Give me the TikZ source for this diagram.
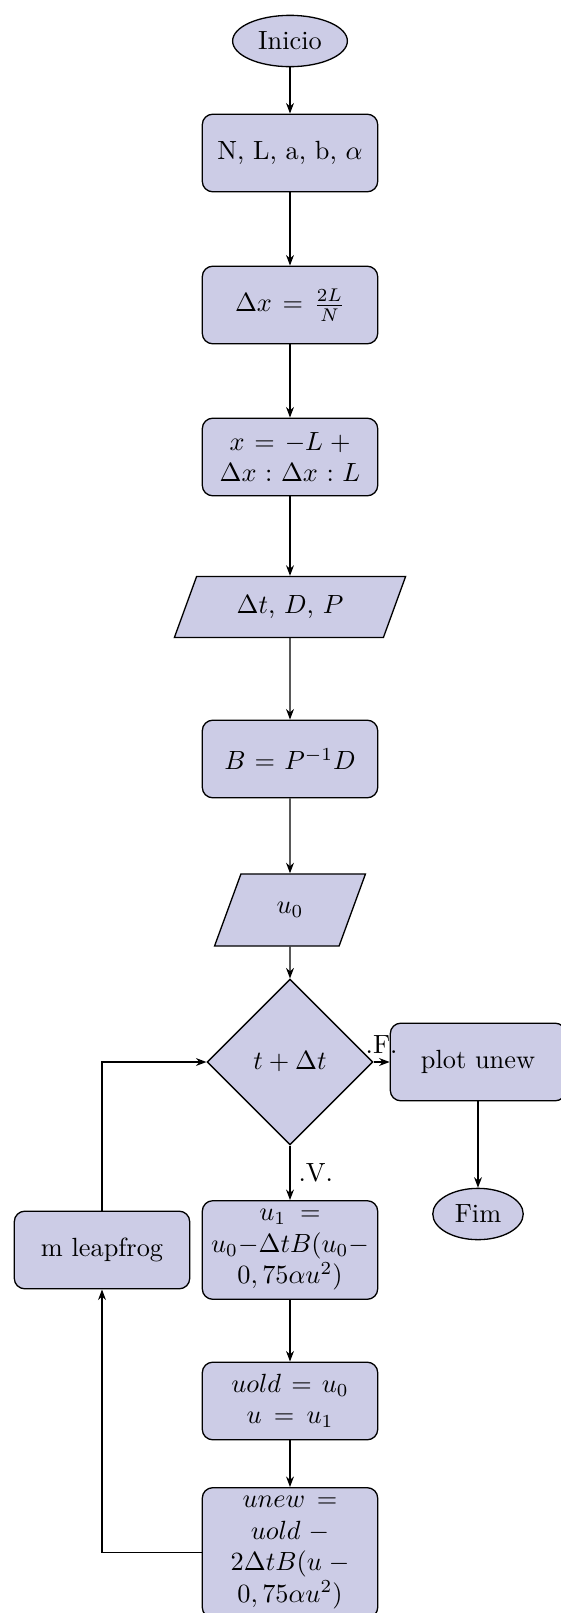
\documentclass[tikz,border=0pt]{standalone}
\usetikzlibrary{shapes.geometric,arrows.meta}
\definecolor{boxfill}{RGB}{204,204,230}
\begin{document}
\begin{tikzpicture}[x=0.38pt,y=-0.38pt,
  base/.style={draw=black, fill=boxfill, line width=0.5pt},
  startstop/.style={base, ellipse, minimum height=19.5pt},
  process/.style={base, rectangle, rounded corners=4pt, text width=60pt, align=center, minimum height=29.5pt},
  io/.style={base, trapezium, trapezium left angle=70, trapezium right angle=110, trapezium stretches=true},
  decision/.style={base, diamond, minimum width=63pt, minimum height=63pt, inner sep=0pt},
  arr/.style={-{Stealth[length=4pt,width=3pt]}, line width=0.5pt},
  lbl/.style={inner sep=3pt}
]
\useasboundingbox (0,0) rectangle (560,1613);
\node[startstop] (start) at (290,41) {Inicio};
\node[process] (in1) at (290,153) {N, L, a, b, $\alpha$};
\node[process] (dx) at (290,305) {$\Delta x = \frac{2L}{N}$};
\node[process] (xg) at (290,457) {$x = -L + \Delta x : \Delta x : L$};
\node[io, minimum width=88pt, minimum height=23.2pt] (dt) at (290,607) {$\Delta t$, $D$, $P$};
\node[process] (bm) at (290,759) {$B = P^{-1}D$};
\node[io, minimum width=57.4pt, minimum height=27.4pt] (u0) at (290,910) {$u_0$};
\node[decision] (dec) at (290,1062) {$t + \Delta t$};
\node[process] (u1) at (290,1250) {$u_1 = u_0 - \Delta t B(u_0 - 0,75\alpha u^2)$};
\node[process] (leap) at (102,1250) {m leapfrog};
\node[process] (plot) at (478,1062) {plot unew};
\node[startstop] (fim) at (478,1214) {Fim};
\node[process] (uold) at (290,1401) {$uold = u_0$ $u = u_1$};
\node[process, anchor=north] (unew) at (290,1487) {$unew = uold - 2\Delta t B(u - 0,75\alpha u^2)$};

\draw[arr] (start) -- (in1);
\draw[arr] (in1) -- (dx);
\draw[arr] (dx) -- (xg);
\draw[arr] (xg) -- (dt);
\draw[arr] (dt) -- (bm);
\draw[arr] (bm) -- (u0);
\draw[arr] (u0) -- (dec);
\draw[arr] (dec) -- node[lbl, above] {.F.} (plot);
\draw[arr] (dec) -- node[lbl, right] {.V.} (u1);
\draw[arr] (plot) -- (fim);
\draw[arr] (u1) -- (uold);
\draw[arr] (uold) -- (unew);
\draw[arr] (unew.west) -| (leap.south);
\draw[arr] (leap.north) |- (dec.west);
\end{tikzpicture}
\end{document}
